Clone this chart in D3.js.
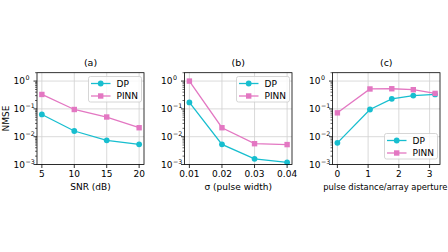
<!DOCTYPE html>
<html><head><meta charset="utf-8">
<script src="https://cdn.jsdelivr.net/npm/d3@7"></script>
<style>body{margin:0;background:#fff}svg{display:block}text{font-family:"DejaVu Sans",sans-serif;fill:#000}</style>
</head><body><svg id="c" width="448" height="252"></svg>
<script>
const seriesNames = ["DP", "PINN"];
const snrX = [5, 10, 15, 20];
const snrDP = [0.063, 0.016, 0.0074, 0.0053];
const snrPINN = [0.33, 0.095, 0.051, 0.021];
const sigmaX = [0.01, 0.02, 0.03, 0.04];
const sigmaDP = [0.17, 0.0053, 0.0016, 0.0012];
const sigmaPINN = [1.0, 0.021, 0.0056, 0.0052];
const distX = [0, 1.06, 1.77, 2.47, 3.18];
const distDP = [0.006, 0.095, 0.23, 0.30, 0.33];
const distPINN = [0.072, 0.52, 0.53, 0.49, 0.36];
const titles = ["(a)", "(b)", "(c)"];
const xLabels = ["SNR (dB)", "σ (pulse width)", "pulse distance/array aperture"];
const xTicksA = [5, 10, 15, 20];
const xTicksB = [0.01, 0.02, 0.03, 0.04];
const xTicksC = [0, 1, 2, 3];
const yTickExps = [0, -1, -2, -3];
const colors = {DP: "#17becf", PINN: "#e377c2"};

const svg = d3.select("#c");
const yTop = 72.7, yBot = 164.5;
const panels = [
  {x0: 37, x1: 144, xs: snrX, dp: snrDP, pinn: snrPINN, ticks: xTicksA, fmt: d => d, leg: "ur", lfs: 9},
  {x0: 184.5, x1: 292, xs: sigmaX, dp: sigmaDP, pinn: sigmaPINN, ticks: xTicksB, fmt: d => d.toFixed(2), leg: "ur", lfs: 9},
  {x0: 332.5, x1: 440, xs: distX, dp: distDP, pinn: distPINN, ticks: xTicksC, fmt: d => d, leg: "lr", lfs: 8.4}
];

panels.forEach((p, i) => {
  const ext = d3.extent(p.xs), pad = (ext[1] - ext[0]) * 0.05;
  const x = d3.scaleLinear().domain([ext[0] - pad, ext[1] + pad]).range([p.x0, p.x1]);
  const y = d3.scaleLog().domain([1e-3, 2]).range([yBot, yTop]);
  const g = svg.append("g");
  g.selectAll(".gx").data(p.ticks).join("line")
    .attr("x1", d => x(d)).attr("x2", d => x(d)).attr("y1", yTop).attr("y2", yBot)
    .attr("stroke", "#d0d0d0").attr("stroke-width", 0.8);
  g.selectAll(".gy").data(yTickExps).join("line")
    .attr("y1", d => y(Math.pow(10, d))).attr("y2", d => y(Math.pow(10, d))).attr("x1", p.x0).attr("x2", p.x1)
    .attr("stroke", "#d0d0d0").attr("stroke-width", 0.8);
  const minors = [];
  for (let e = -3; e <= 0; e++) for (let m = 2; m <= 9; m++) { const v = m * Math.pow(10, e); if (v <= 2) minors.push(v); }
  g.selectAll(".mt").data(minors).join("line")
    .attr("x1", p.x0).attr("x2", p.x0 - 2).attr("y1", d => y(d)).attr("y2", d => y(d))
    .attr("stroke", "#000").attr("stroke-width", 0.6);
  g.selectAll(".yt").data(yTickExps).join("line")
    .attr("x1", p.x0).attr("x2", p.x0 - 3.5).attr("y1", d => y(Math.pow(10, d))).attr("y2", d => y(Math.pow(10, d)))
    .attr("stroke", "#000").attr("stroke-width", 0.8);
  g.selectAll(".yl").data(yTickExps).join("text")
    .attr("x", p.x0 - 12).attr("y", d => y(Math.pow(10, d)) + 3.2)
    .attr("text-anchor", "end").attr("font-size", 9).text("10");
  g.selectAll(".ys").data(yTickExps).join("text")
    .attr("x", p.x0 - 11.6).attr("y", d => y(Math.pow(10, d)) - 1)
    .attr("text-anchor", "start").attr("font-size", 6.3).text(d => d === 0 ? "0" : "−" + (-d));
  g.selectAll(".xt").data(p.ticks).join("line")
    .attr("x1", d => x(d)).attr("x2", d => x(d)).attr("y1", yBot).attr("y2", yBot + 3.5)
    .attr("stroke", "#000").attr("stroke-width", 0.8);
  g.selectAll(".xl").data(p.ticks).join("text")
    .attr("x", d => x(d)).attr("y", yBot + 12.5).attr("text-anchor", "middle").attr("font-size", 9)
    .text(p.fmt);
  const series = [{name: "DP", v: p.dp}, {name: "PINN", v: p.pinn}];
  series.forEach(s => {
    const pts = p.xs.map((xv, k) => [x(xv), y(s.v[k])]);
    g.append("path").attr("d", d3.line()(pts)).attr("fill", "none")
      .attr("stroke", colors[s.name]).attr("stroke-width", 1.3);
    if (s.name === "DP") {
      g.selectAll(null).data(pts).join("circle").attr("cx", d => d[0]).attr("cy", d => d[1]).attr("r", 2.9)
        .attr("fill", colors[s.name]);
    } else {
      g.selectAll(null).data(pts).join("rect").attr("x", d => d[0] - 2.7).attr("y", d => d[1] - 2.7)
        .attr("width", 5.4).attr("height", 5.4).attr("fill", colors[s.name]);
    }
  });
  g.append("rect").attr("x", p.x0).attr("y", yTop).attr("width", p.x1 - p.x0).attr("height", yBot - yTop)
    .attr("fill", "none").attr("stroke", "#000").attr("stroke-width", 0.8);
  g.append("text").attr("x", (p.x0 + p.x1) / 2).attr("y", yTop - 6.5).attr("text-anchor", "middle")
    .attr("font-size", 9.5).text(titles[i]);
  g.append("text").attr("x", (p.x0 + p.x1) / 2 + (i === 2 ? -1 : 0)).attr("y", yBot + 25.5).attr("text-anchor", "middle")
    .attr("font-size", p.lfs).text(xLabels[i]);
  const lw = 53, lh = 25.5;
  const lx = p.x1 - 2.5 - lw;
  const ly = p.leg === "ur" ? yTop + 3.8 : yBot - 3.5 - lh - 2;
  g.append("rect").attr("x", lx).attr("y", ly).attr("width", lw).attr("height", lh).attr("rx", 2)
    .attr("fill", "rgba(255,255,255,0.8)").attr("stroke", "#ccc").attr("stroke-width", 0.8);
  seriesNames.forEach((n, k) => {
    const cy = ly + 7 + k * 12.5;
    g.append("line").attr("x1", lx + 2.5).attr("x2", lx + 22).attr("y1", cy).attr("y2", cy)
      .attr("stroke", colors[n]).attr("stroke-width", 1.3);
    if (n === "DP") g.append("circle").attr("cx", lx + 12.2).attr("cy", cy).attr("r", 2.9).attr("fill", colors[n]);
    else g.append("rect").attr("x", lx + 9.5).attr("y", cy - 2.7).attr("width", 5.4).attr("height", 5.4).attr("fill", colors[n]);
    g.append("text").attr("x", lx + 28).attr("y", cy + 3.2).attr("font-size", 9).text(n);
  });
});
svg.append("text").attr("transform", "translate(9," + ((yTop + yBot) / 2) + ") rotate(-90)")
  .attr("text-anchor", "middle").attr("font-size", 9).text("NMSE");
</script></body></html>
